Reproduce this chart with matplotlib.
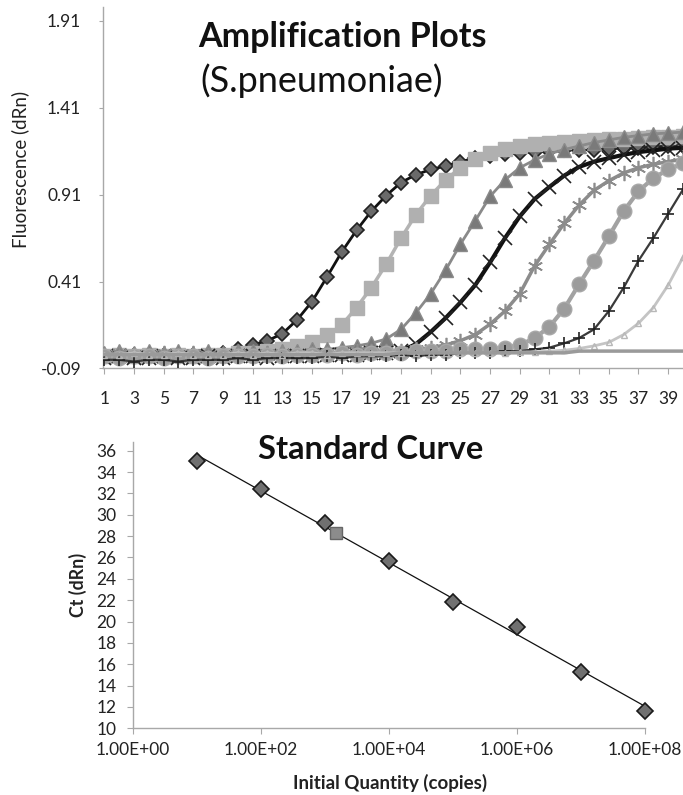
import numpy as np
import matplotlib
matplotlib.use("Agg")
import matplotlib.pyplot as plt

plt.rcParams['font.family'] = ['Lato', 'DejaVu Sans']

########################################################
# amplification plot data (dRn per cycle)
########################################################
cycles = list(range(1, 41))

diamond = [-0.01, -0.02, -0.01, -0.02, -0.01, -0.02, -0.01, -0.01, 0.0, 0.02,
           0.045, 0.07, 0.11, 0.19, 0.295, 0.435, 0.58, 0.705, 0.815, 0.905,
           0.98, 1.025, 1.055, 1.075, 1.10, 1.12, 1.135, 1.145, 1.15, 1.155,
           1.16, 1.165, 1.17, 1.17, 1.175, 1.18, 1.18, 1.185, 1.19, 1.19]
square = [-0.02, -0.01, -0.02, -0.01, -0.02, -0.01, -0.02, -0.01, -0.01, 0.0,
          0.0, 0.01, 0.02, 0.04, 0.064, 0.10, 0.16, 0.26, 0.375, 0.51,
          0.66, 0.795, 0.905, 0.995, 1.065, 1.115, 1.15, 1.175, 1.19, 1.20,
          1.21, 1.215, 1.22, 1.225, 1.23, 1.23, 1.235, 1.24, 1.24, 1.245]
triangle = [0.0, 0.01, 0.0, 0.01, 0.0, 0.01, 0.0, 0.01, 0.0, 0.01,
            0.01, 0.0, 0.01, 0.01, 0.02, 0.02, 0.03, 0.04, 0.055, 0.08,
            0.135, 0.23, 0.34, 0.475, 0.625, 0.76, 0.90, 0.995, 1.065, 1.11,
            1.145, 1.17, 1.19, 1.21, 1.225, 1.24, 1.25, 1.26, 1.265, 1.27]
black = [-0.03, -0.02, -0.03, -0.03, -0.02, -0.03, -0.03, -0.02, -0.03, -0.02,
         -0.02, -0.03, -0.02, -0.02, -0.02, -0.01, -0.01, -0.01, 0.0, 0.0,
         0.01, 0.05, 0.12, 0.20, 0.29, 0.39, 0.52, 0.66, 0.785, 0.885,
         0.955, 1.02, 1.07, 1.10, 1.12, 1.14, 1.155, 1.165, 1.175, 1.18]
star = [-0.01, 0.0, -0.01, -0.01, 0.0, -0.01, 0.0, -0.01, -0.01, 0.0,
        -0.01, 0.0, 0.0, -0.01, 0.0, 0.0, 0.0, 0.01, 0.01, 0.01,
        0.01, 0.02, 0.03, 0.045, 0.07, 0.105, 0.165, 0.24, 0.34, 0.50,
        0.625, 0.745, 0.85, 0.935, 0.99, 1.035, 1.065, 1.085, 1.10, 1.115]
circle = [-0.02, -0.03, -0.02, -0.02, -0.03, -0.02, -0.02, -0.03, -0.02, -0.02,
          -0.02, -0.01, -0.02, -0.01, -0.01, -0.01, 0.0, -0.01, 0.0, 0.0,
          0.0, 0.01, 0.01, 0.01, 0.02, 0.02, 0.02, 0.03, 0.045, 0.085,
          0.15, 0.255, 0.395, 0.53, 0.67, 0.815, 0.93, 1.005, 1.055, 1.09]
plus = [-0.04, -0.04, -0.05, -0.04, -0.04, -0.05, -0.04, -0.04, -0.04, -0.03,
        -0.04, -0.03, -0.03, -0.03, -0.03, -0.02, -0.03, -0.02, -0.02, -0.02,
        -0.01, -0.02, -0.01, -0.01, 0.0, 0.0, 0.0, 0.01, 0.01, 0.02,
        0.03, 0.055, 0.085, 0.135, 0.24, 0.375, 0.53, 0.66, 0.80, 0.94]
light = [-0.01, -0.01, 0.0, -0.01, -0.01, 0.0, -0.01, -0.01, -0.01, 0.0,
         -0.01, 0.0, -0.01, 0.0, 0.0, -0.01, 0.0, 0.0, 0.0, 0.0,
         0.0, 0.0, 0.0, 0.0, 0.0, 0.0, 0.0, 0.0, 0.005, 0.005,
         0.01, 0.015, 0.025, 0.04, 0.06, 0.105, 0.17, 0.26, 0.39, 0.55]
ntc = [-0.01, -0.01, -0.01, -0.01, -0.01, -0.01, -0.01, -0.01, -0.01, -0.01,
       -0.01, -0.01, -0.01, -0.01, -0.01, -0.01, -0.01, -0.01, -0.01, -0.01,
       0.0, 0.0, 0.0, 0.0, 0.0, 0.0, 0.0, 0.0, 0.0, 0.0,
       0.0, 0.0, 0.01, 0.01, 0.01, 0.01, 0.01, 0.01, 0.01, 0.01]

amp_yticks = [-0.09, 0.41, 0.91, 1.41, 1.91]
amp_xticks = list(range(1, 40, 2))

########################################################
# standard curve data
########################################################
std_qty = [1e1, 1e2, 1e3, 1e4, 1e5, 1e6, 1e7, 1e8]
std_ct = [35.05, 32.38, 29.26, 25.7, 21.86, 19.52, 15.3, 11.65]
unk_qty = [1.5e3]
unk_ct = [28.26]
std_xticks = [1e0, 1e2, 1e4, 1e6, 1e8]
std_xlabels = ["1.00E+00", "1.00E+02", "1.00E+04", "1.00E+06", "1.00E+08"]
std_yticks = list(range(10, 37, 2))

axis_gray = "#a8a8a8"

fig = plt.figure(figsize=(6.83, 7.95), dpi=100)

########################################################
# top: amplification plots
# (Excel draws the first series underneath, so diamonds go first)
########################################################
ax1 = fig.add_axes([0.1515, 0.5365, 0.8485, 0.4547])
ax1.plot(cycles, diamond, color="#111111", lw=2, marker="D", ms=7.5,
         mfc="#6a6a6a", mec="#222222", mew=1.2, zorder=2)
ax1.plot(cycles, square, color="#b4b4b4", lw=2.5, marker="s", ms=10,
         mfc="#b0b0b0", mec="#b0b0b0", zorder=3)
ax1.plot(cycles, triangle, color="#8a8a8a", lw=2, marker="^", ms=9.5,
         mfc="#7a7a7a", mec="#8a8a8a", zorder=4)
ax1.plot(cycles, black, color="#111111", lw=3, marker="x", ms=10,
         mew=1.2, mec="#222222", zorder=5)
ax1.plot(cycles, star, color="#8c8c8c", lw=2.5, marker=(6, 2, 0), ms=11,
         mew=1.2, mec="#8c8c8c", zorder=6)
ax1.plot(cycles, circle, color="#a2a2a2", lw=3, marker="o", ms=10.5,
         mfc="#9c9c9c", mec="#a8a8a8", zorder=7)
ax1.plot(cycles, plus, color="#3a3a3a", lw=1.6, marker="+", ms=9,
         mew=1.2, mec="#222222", zorder=8)
ax1.plot(cycles, light, color="#c4c4c4", lw=2, marker="^", ms=4,
         mfc="none", mec="#b8b8b8", zorder=9)
ax1.plot(cycles, ntc, color="#9a9a9a", lw=2.5, zorder=10)

ax1.set_xlim(0.95, 40.0)
ax1.set_ylim(-0.09, 1.99)
ax1.set_xticks(amp_xticks)
ax1.set_xticklabels([str(c) for c in amp_xticks])
ax1.set_yticks(amp_yticks)
ax1.set_yticklabels([f"{v:.2f}" for v in amp_yticks])
ax1.tick_params(axis="x", length=4, width=0.8, color=axis_gray, pad=12,
                labelsize=12.5, labelcolor="#222222")
ax1.tick_params(axis="y", length=3, width=0.8, color=axis_gray, pad=13,
                labelsize=12.5, labelcolor="#222222")
for side in ["top", "right"]:
    ax1.spines[side].set_visible(False)
for side in ["left", "bottom"]:
    ax1.spines[side].set_color(axis_gray)
    ax1.spines[side].set_linewidth(1)

fig.text(0.502, 0.9538, "Amplification Plots", ha="center", va="center",
         fontsize=24.5, fontweight="bold", color="#111111")
fig.text(0.4714, 0.898, "(S.pneumoniae)", ha="center", va="center",
         fontsize=26, color="#111111")
fig.text(0.029, 0.787, "Fluorescence (dRn)", ha="center", va="center",
         rotation=90, fontsize=13.5, color="#222222")

########################################################
# bottom: standard curve
########################################################
ax2 = fig.add_axes([0.1947, 0.0839, 0.7491, 0.3605])
fit = np.polyfit(np.log10(std_qty), std_ct, 1)
fit_x = np.array([std_qty[0], std_qty[-1]])
ax2.plot(fit_x, np.polyval(fit, np.log10(fit_x)), color="#111111", lw=0.9, zorder=2)
ax2.plot(std_qty, std_ct, ls="none", marker="D", ms=8, mfc="#707070",
         mec="#1a1a1a", mew=1.2, zorder=3, clip_on=False)
ax2.plot(unk_qty, unk_ct, ls="none", marker="s", ms=9, mfc="#8c8c8c",
         mec="#666666", mew=1, zorder=4)

ax2.set_xscale("log")
ax2.set_xlim(1, 1e8)
ax2.set_ylim(10, 36.84)
ax2.set_xticks(std_xticks)
ax2.set_xticklabels(std_xlabels)
ax2.xaxis.set_minor_locator(matplotlib.ticker.NullLocator())
ax2.set_yticks(std_yticks)
ax2.tick_params(axis="x", length=4, width=0.8, color=axis_gray, pad=6,
                labelsize=12.5, labelcolor="#222222")
ax2.tick_params(axis="y", length=4, width=0.8, color=axis_gray, pad=8,
                labelsize=12.5, labelcolor="#222222")
for side in ["top", "right"]:
    ax2.spines[side].set_visible(False)
for side in ["left", "bottom"]:
    ax2.spines[side].set_color(axis_gray)
    ax2.spines[side].set_linewidth(1)

fig.text(0.543, 0.434, "Standard Curve", ha="center", va="center",
         fontsize=23.5, fontweight="bold", color="#111111")
fig.text(0.571, 0.015, "Initial Quantity (copies)", ha="center", va="center",
         fontsize=13.5, fontweight="bold", color="#222222")
fig.text(0.114, 0.264, "Ct (dRn)", ha="center", va="center", rotation=90,
         fontsize=12.8, fontweight="bold", color="#222222")

plt.savefig("out.png", dpi=100)
